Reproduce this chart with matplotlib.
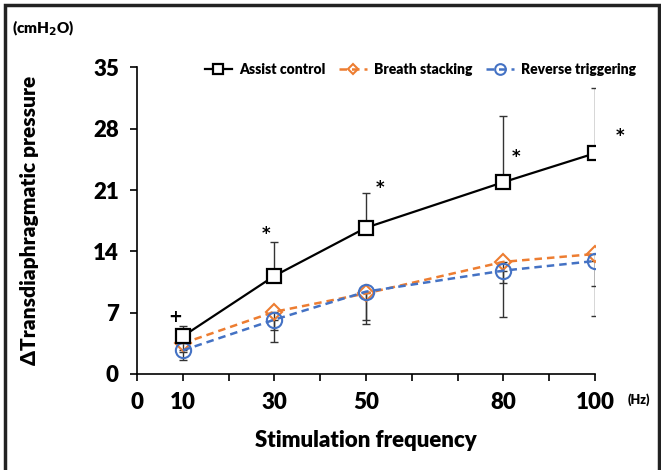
import numpy as np
import matplotlib.pyplot as plt
from matplotlib.patches import Rectangle

plt.rcParams['font.family'] = ['Lato', 'DejaVu Sans']
plt.rcParams['font.weight'] = 'bold'

# data
freq = [10, 30, 50, 80, 100]
ac_mean = [4.3, 11.2, 16.7, 21.9, 25.2]
ac_sd = [1.2, 3.9, 4.0, 7.6, 7.4]
bs_mean = [3.5, 7.1, 9.2, 12.8, 13.7]
bs_sd = [1.0, 3.4, 3.5, 6.3, 7.1]
rt_mean = [2.7, 6.2, 9.4, 11.8, 12.9]
rt_sd = [1.1, 1.2, 3.2, 1.4, 2.9]
marks = ['+', '*', '*', '*', '*']
mark_offsets = [(-8, 19), (-8, 42), (14, 40), (13, 25), (25, 17)]  # pixels from AC mean
xtick_labels = [0, 10, 30, 50, 80, 100]
yticks = [0, 7, 14, 21, 28, 35]

fig = plt.figure(figsize=(6.61, 4.70), dpi=100)
ax = fig.add_axes([137/661, 1 - 374/470, 458/661, 306.6/470])

zeros = np.zeros(len(freq))
err_kw = dict(ecolor='#333333', elinewidth=1, capsize=3, capthick=1, zorder=2)
ax.errorbar(freq, ac_mean, yerr=[zeros, ac_sd], fmt='none', **err_kw)
ax.errorbar(freq, bs_mean, yerr=[bs_sd, zeros], fmt='none', **err_kw)
ax.errorbar(freq, rt_mean, yerr=[rt_sd, zeros], fmt='none', **err_kw)

ax.plot(freq, ac_mean, color='black', lw=1.6, marker='s', ms=10, mfc='white',
        mec='black', mew=1.6, label='Assist control', zorder=4)
ax.plot(freq, bs_mean, color='#ED7D31', lw=1.8, ls=(0, (3, 2)), marker='D', ms=8,
        mfc='none', mec='#ED7D31', mew=1.5, label='Breath stacking', zorder=3)
ax.plot(freq, rt_mean, color='#4472C4', lw=1.8, ls=(0, (3, 2)), marker='o', ms=11,
        mfc='none', mec='#4472C4', mew=1.5, label='Reverse triggering', zorder=3)

for f, m, s, (dx, dy) in zip(freq, ac_mean, marks, mark_offsets):
    ax.annotate(s, (f, m), xytext=(dx, dy), textcoords='offset pixels',
                ha='center', va='center', fontsize=12, fontweight='bold',
                family=['DejaVu Sans'])

ax.set_xlim(0, 100)
ax.set_ylim(0, 35)
ax.set_xticks(range(0, 101, 10))
ax.set_xticklabels([str(t) if t in xtick_labels else '' for t in range(0, 101, 10)])
ax.set_yticks(yticks)
ax.tick_params(axis='both', direction='out', length=5, width=1.2, labelsize=16, pad=8)
for lab in ax.get_xticklabels() + ax.get_yticklabels():
    lab.set_fontweight('heavy')
ax.spines['top'].set_visible(False)
ax.spines['right'].set_visible(False)
ax.spines['left'].set_linewidth(1.2)
ax.spines['bottom'].set_linewidth(1.2)

ax.set_xlabel('Stimulation frequency', fontsize=16, fontweight='heavy', labelpad=12)
ax.set_ylabel('ΔTransdiaphragmatic pressure', fontsize=15, fontweight='heavy')
ax.yaxis.set_label_coords(-0.215, 0.5)

fig.text(12/661, 1 - 28/470, '(cmH$_\\mathbf{2}$O)', fontsize=11, fontweight='heavy', va='center')
fig.text(628/661, 1 - 400/470, '(Hz)', fontsize=9, fontweight='heavy', va='center')

leg = ax.legend(loc='center left', bbox_to_anchor=(192/661, 1 - 69/470),
                bbox_transform=fig.transFigure, ncol=3, frameon=False,
                fontsize=10, handlelength=2.0, handletextpad=0.5,
                columnspacing=1.0, markerscale=0.7)
for t in leg.get_texts():
    t.set_fontweight('heavy')

fig.patches.append(Rectangle((5/661, -0.05), 654/661, 1.05 - 5/470, transform=fig.transFigure,
                             fill=False, edgecolor='#222222', linewidth=2.5, zorder=10))

fig.savefig('out.png', dpi=100)
